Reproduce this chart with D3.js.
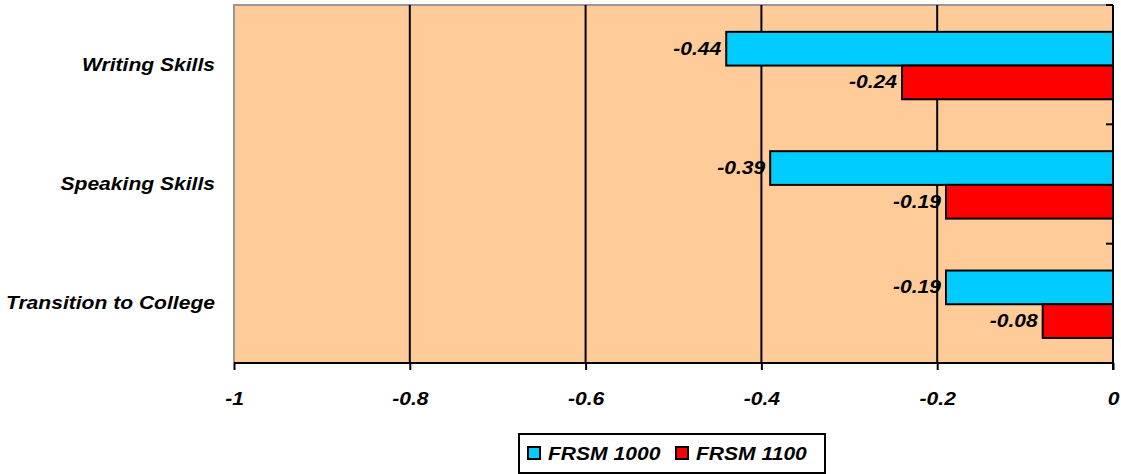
<!DOCTYPE html>
<html>
<head>
<meta charset="utf-8">
<script src="https://cdn.jsdelivr.net/npm/d3@7"></script>
<style>
  body { margin: 0; background: #fff; }
  text { font-family: "Liberation Sans", Arial, sans-serif; font-weight: bold; font-style: italic; }
</style>
</head>
<body>
<div class="chart"></div>
<script>
// Horizontal grouped bars, two series per category

var categories = ['Writing Skills', 'Speaking Skills', 'Transition to College'];
var seriesNames = ['FRSM 1000', 'FRSM 1100'];
var frsm1000 = [-0.44, -0.39, -0.19];
var frsm1100 = [-0.24, -0.19, -0.08];
var xTicks = [-1, -0.8, -0.6, -0.4, -0.2, 0];
var colors = ['#00ccff', '#ff0000'];

var width = 1121, height = 474;
var plotLeft = 234, plotRight = 1113, plotTop = 5, plotBottom = 363;
var fontSize = 18, stretch = 1.17; // the original text is a bit wider than Arial

var svg = d3.select('.chart').append('svg')
  .attr('width', width)
  .attr('height', height);

var x = d3.scaleLinear().domain([-1, 0]).range([plotLeft, plotRight]);
var y = d3.scaleBand().domain(categories).range([plotTop, plotBottom]);
var inner = d3.scaleBand().domain(seriesNames)
  .range([y.bandwidth() * 0.225, y.bandwidth() * 0.79]);

// plot background
svg.append('rect')
  .attr('x', plotLeft).attr('y', plotTop)
  .attr('width', plotRight - plotLeft).attr('height', plotBottom - plotTop)
  .attr('fill', '#ffcc99');

// gray frame on top and left
svg.append('path')
  .attr('d', 'M' + plotLeft + ',' + plotBottom + 'V' + plotTop + 'H' + plotRight)
  .attr('fill', 'none')
  .attr('stroke', '#999')
  .attr('stroke-width', 2);

// vertical gridlines
svg.selectAll('.grid')
  .data(xTicks.filter(function(d) { return d > -1 && d < 0; }))
  .enter().append('line')
    .attr('x1', function(d) { return x(d); })
    .attr('x2', function(d) { return x(d); })
    .attr('y1', plotTop).attr('y2', plotBottom)
    .attr('stroke', '#000')
    .attr('stroke-width', 2);

// bars
var data = [];
categories.forEach(function(c, i) {
  data.push({ cat: c, s: seriesNames[0], v: frsm1000[i], col: colors[0] });
  data.push({ cat: c, s: seriesNames[1], v: frsm1100[i], col: colors[1] });
});

svg.selectAll('.bar')
  .data(data)
  .enter().append('rect')
    .attr('x', function(d) { return x(d.v); })
    .attr('y', function(d) { return y(d.cat) + inner(d.s); })
    .attr('width', function(d) { return x(0) - x(d.v); })
    .attr('height', inner.bandwidth())
    .attr('fill', function(d) { return d.col; })
    .attr('stroke', '#000')
    .attr('stroke-width', 2);

svg.selectAll('.val')
  .data(data)
  .enter().append('text')
    .attr('x', function(d) { return x(d.v) - 5; })
    .attr('y', function(d) { return y(d.cat) + inner(d.s) + inner.bandwidth() / 2 + 6; })
    .attr('text-anchor', 'end')
    .text(function(d) { return d.v.toFixed(2); });

// x axis
var xAxis = svg.append('g')
  .attr('transform', 'translate(0,' + plotBottom + ')')
  .call(d3.axisBottom(x).tickValues(xTicks).tickSize(7).tickFormat(d3.format('')));
xAxis.select('.domain').attr('stroke', '#000').attr('stroke-width', 2)
  .attr('d', 'M' + plotLeft + ',0H' + plotRight);
xAxis.selectAll('.tick line').attr('stroke-width', 2);
xAxis.selectAll('.tick text')
  .attr('dy', 0)
  .attr('y', 42)
  .attr('fill', '#000')
  .text(function(d) { return d === 0 ? '0' : String(d); });

// right axis at zero with ticks between categories
var bounds = [plotTop].concat(categories.map(function(c) { return y(c) + y.bandwidth(); }));
svg.append('line')
  .attr('x1', plotRight).attr('x2', plotRight)
  .attr('y1', plotTop).attr('y2', plotBottom + 7)
  .attr('stroke', '#000').attr('stroke-width', 2);
svg.selectAll('.ytick')
  .data(bounds)
  .enter().append('line')
    .attr('x1', plotRight - 7).attr('x2', plotRight)
    .attr('y1', function(d) { return d; })
    .attr('y2', function(d) { return d; })
    .attr('stroke', '#000').attr('stroke-width', 2);

// category labels
svg.selectAll('.cat')
  .data(categories)
  .enter().append('text')
    .attr('x', 215)
    .attr('y', function(d) { return y(d) + y.bandwidth() / 2 + 6; })
    .attr('text-anchor', 'end')
    .text(function(d) { return d; });

// legend
var legend = svg.append('g');
legend.append('rect')
  .attr('x', 519).attr('y', 434)
  .attr('width', 306).attr('height', 39)
  .attr('fill', '#fff').attr('stroke', '#000').attr('stroke-width', 2);

var legX = [528, 676];
seriesNames.forEach(function(s, i) {
  legend.append('rect')
    .attr('x', legX[i]).attr('y', 447)
    .attr('width', 12).attr('height', 12)
    .attr('fill', colors[i]).attr('stroke', '#000').attr('stroke-width', 2);
  legend.append('text')
    .attr('x', legX[i] + 20).attr('y', 460)
    .text(s);
});

// all text same size, stretched a little sideways
svg.selectAll('text')
  .attr('font-size', fontSize)
  .attr('font-family', null)
  .each(function() {
    var w = this.getComputedTextLength();
    d3.select(this)
      .attr('textLength', w * stretch)
      .attr('lengthAdjust', 'spacingAndGlyphs');
  });
</script>
</body>
</html>
